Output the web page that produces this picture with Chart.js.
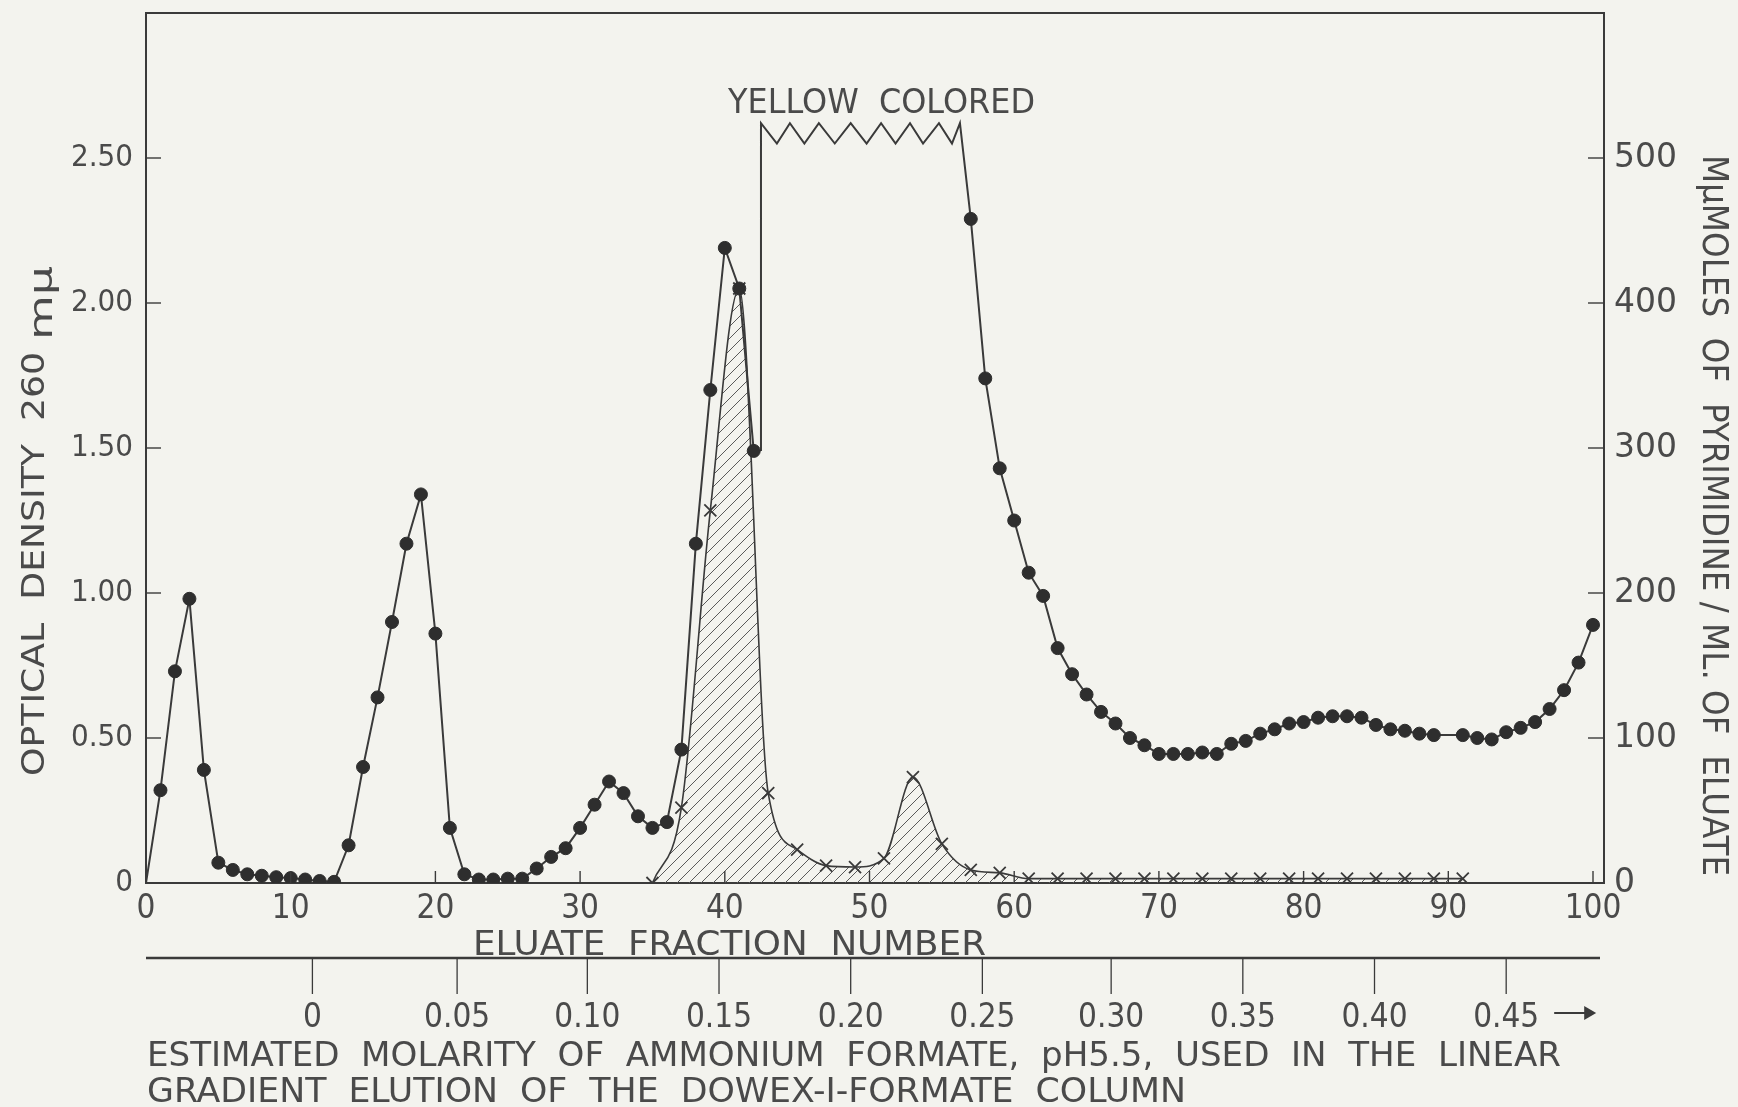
<!DOCTYPE html>
<html>
<head>
<meta charset="utf-8">
<title>Eluate fractions - Dowex-1-formate column</title>
<script src="https://cdn.jsdelivr.net/npm/chart.js@4.4.0/dist/chart.umd.min.js"></script>
<style>
	html, body { margin: 0; padding: 0; background: #f3f3ee; }
	#wrap { width: 1738px; height: 1107px; }
</style>
</head>
<body>
<div id="wrap"><canvas id="chart" width="1738" height="1107"></canvas></div>
<script>
// ---- values ----
const fractions = [0,1,2,3,4,5,6,7,8,9,10,11,12,13,14,15,16,17,18,19,20,21,22,23,24,25,26,27,28,29,
	30,31,32,33,34,35,36,37,38,39,40,41,42,43,44,45,46,47,48,49,50,51,52,53,54,55,56,57,58,59,
	60,61,62,63,64,65,66,67,68,69,70,71,72,73,74,75,76,77,78,79,80,81,82,83,84,85,86,87,88,89,
	91,92,93,94,95,96,97,98,99,100];

// optical density at 260 mu (null = off scale, yellow coloured fractions)
const opticalDensity = [0, 0.32, 0.73, 0.98, 0.39, 0.07, 0.045, 0.03, 0.025, 0.02,
	0.017, 0.012, 0.007, 0.004, 0.13, 0.40, 0.64, 0.90, 1.17, 1.34,
	0.86, 0.19, 0.03, 0.012, 0.012, 0.015, 0.015, 0.05, 0.09, 0.12,
	0.19, 0.27, 0.35, 0.31, 0.23, 0.19, 0.21, 0.46, 1.17, 1.70,
	2.19, 2.05, 1.49, null, null, null, null, null, null, null,
	null, null, null, null, null, null, null, 2.29, 1.74, 1.43,
	1.25, 1.07, 0.99, 0.81, 0.72, 0.65, 0.59, 0.55, 0.50, 0.475,
	0.445, 0.445, 0.445, 0.45, 0.445, 0.48, 0.49, 0.515, 0.53, 0.55,
	0.555, 0.57, 0.575, 0.575, 0.57, 0.545, 0.53, 0.525, 0.515, 0.51,
	0.51, 0.50, 0.495, 0.52, 0.535, 0.555, 0.60, 0.665, 0.76, 0.89];

// m-micromoles of pyrimidine / ml of eluate (crosses, right axis)
const pyrFractions = [35,37,39,41,43,45,47,49,51,53,55,57,59,61,63,65,67,69,71,73,75,77,79,81,83,85,87,89,91];
const pyrimidine = [0, 52, 257, 410, 62, 23, 12, 11, 17, 73, 27, 9, 7, 3, 3, 3, 3, 3, 3, 3, 3, 3, 3, 3, 3, 3, 3, 3, 3];

// off-scale stretch drawn as a zigzag cap
const yellowFractions = [42.5, 42.5, 43.6, 44.5, 45.5, 46.5, 47.6, 48.7, 49.8, 50.8, 51.8, 52.8, 53.7, 54.8, 55.7, 56.25, 57];
const yellowDensity = [1.49, 2.62, 2.55, 2.62, 2.55, 2.62, 2.55, 2.62, 2.55, 2.62, 2.55, 2.62, 2.55, 2.62, 2.55, 2.62, 2.29];

// tick labels
const xTicks = [0, 10, 20, 30, 40, 50, 60, 70, 80, 90, 100];
const xLabels = ['0', '10', '20', '30', '40', '50', '60', '70', '80', '90', '100'];
const odTicks = [0, 0.5, 1, 1.5, 2, 2.5];
const odLabels = ['0', '0.50', '1.00', '1.50', '2.00', '2.50'];
const pyrTicks = [0, 100, 200, 300, 400, 500];
const pyrLabels = ['0', '100', '200', '300', '400', '500'];

// molarity scale under the fraction axis (positions given as fraction numbers)
const molarityAt = [11.5, 21.5, 30.5, 39.6, 48.7, 57.8, 66.7, 75.8, 84.9, 94.0];
const molarityLabels = ['0', '0.05', '0.10', '0.15', '0.20', '0.25', '0.30', '0.35', '0.40', '0.45'];


// ---- look ----
const paper = '#f3f3ee';
const ink = '#3a3a3a';
const textInk = '#4a4a4a';
const plain = "'DejaVu Sans', sans-serif";
const narrow = "'DejaVu Sans Condensed', 'DejaVu Sans', sans-serif";

function hatch() {
	const s = 12;
	const c = document.createElement('canvas');
	c.width = s;
	c.height = s;
	const g = c.getContext('2d');
	g.strokeStyle = '#5a5a5a';
	g.lineWidth = 1;
	g.beginPath();
	g.moveTo(-1, s + 1); g.lineTo(s + 1, -1);
	g.moveTo(-2, 2); g.lineTo(2, -2);
	g.moveTo(s - 2, s + 2); g.lineTo(s + 2, s - 2);
	g.stroke();
	return g.createPattern(c, 'repeat');
}

function line(c, x1, y1, x2, y2) {
	c.beginPath();
	c.moveTo(x1, y1);
	c.lineTo(x2, y2);
	c.stroke();
}

// draw text squeezed/stretched to the width it has in the figure
function fitText(c, text, x, y, width, rot) {
	const w = c.measureText(text).width;
	c.save();
	c.translate(x, y);
	if (rot) c.rotate(rot);
	c.scale(width / w, 1);
	c.textAlign = 'left';
	c.textBaseline = 'alphabetic';
	c.fillText(text, 0, 0);
	c.restore();
}

// keep the plot box where the figure has it
function noPad(s) {
	s.paddingTop = 0;
	s.paddingBottom = 0;
	s.paddingLeft = 0;
	s.paddingRight = 0;
}

const decorations = {
	id: 'decorations',
	beforeDraw(chart) {
		const c = chart.ctx;
		c.save();
		c.fillStyle = paper;
		c.fillRect(0, 0, chart.width, chart.height);
		c.restore();
	},
	afterDraw(chart) {
		const c = chart.ctx;
		const a = chart.chartArea;
		const sx = chart.scales.x, sy = chart.scales.y, sy2 = chart.scales.y2;
		c.save();
		c.strokeStyle = ink;
		c.fillStyle = textInk;

		// top edge of the frame
		c.lineWidth = 2;
		line(c, a.left, a.top, a.right, a.top);

		// inward tick marks
		c.lineWidth = 1.4;
		xTicks.forEach(v => {
			const px = sx.getPixelForValue(v);
			line(c, px, a.bottom, px, a.bottom - 12);
		});
		odTicks.forEach(v => {
			const py = sy.getPixelForValue(v);
			line(c, a.left, py, a.left + 15, py);
		});
		pyrTicks.forEach(v => {
			const py = sy2.getPixelForValue(v);
			line(c, a.right, py, a.right - 16, py);
		});

		// axis titles
		c.font = '32px ' + narrow;
		fitText(c, 'OPTICAL  DENSITY  260', 44, 776, 424, -Math.PI / 2);
		fitText(c, 'mμ', 52, 340, 74, -Math.PI / 2);

		c.font = '36px ' + narrow;
		fitText(c, 'MμMOLES  OF  PYRIMIDINE / ML. OF  ELUATE', 1703, 155, 721, Math.PI / 2);

		c.font = '34px ' + narrow;
		fitText(c, 'ELUATE  FRACTION  NUMBER', 473, 955, 513);

		c.font = '33px ' + plain;
		fitText(c, 'YELLOW  COLORED', 728, 113, 307);

		// molarity scale
		const my = 958;
		c.lineWidth = 2.5;
		line(c, a.left, my, a.right - 4, my);
		c.lineWidth = 1.3;
		c.font = '33px ' + narrow;
		c.textAlign = 'center';
		c.textBaseline = 'alphabetic';
		molarityAt.forEach((f, i) => {
			const px = sx.getPixelForValue(f);
			line(c, px, my, px, my + 36);
			c.fillText(molarityLabels[i], px, 1027);
		});
		// arrow after the last value
		const ax = sx.getPixelForValue(molarityAt[molarityAt.length - 1]) + 48;
		c.lineWidth = 2;
		line(c, ax, 1013, ax + 32, 1013);
		c.fillStyle = ink;
		c.beginPath();
		c.moveTo(ax + 42, 1013);
		c.lineTo(ax + 30, 1006);
		c.lineTo(ax + 30, 1020);
		c.closePath();
		c.fill();

		c.fillStyle = textInk;
		c.font = '34px ' + narrow;
		fitText(c, 'ESTIMATED  MOLARITY  OF  AMMONIUM  FORMATE,  pH5.5,  USED  IN  THE  LINEAR', 147, 1066, 1414);
		fitText(c, 'GRADIENT  ELUTION  OF  THE  DOWEX-I-FORMATE  COLUMN', 147, 1102, 1039);

		c.restore();
	}
};

const odPoints = fractions.map((f, i) => ({ x: f, y: opticalDensity[i] }));
const pyrPoints = pyrFractions.map((f, i) => ({ x: f, y: pyrimidine[i] }));
const yellowPoints = yellowFractions.map((f, i) => ({ x: f, y: yellowDensity[i] }));

const ctx = document.getElementById('chart');
const chart = new Chart(ctx, {
	type: 'line',
	data: {
		datasets: [
			{
				label: 'Optical density 260 mμ',
				data: odPoints,
				yAxisID: 'y',
				order: 0,
				borderColor: ink,
				borderWidth: 2,
				tension: 0,
				spanGaps: false,
				pointStyle: 'circle',
				pointRadius: c => (c.dataIndex === 0 ? 0 : 6.5),
				pointBackgroundColor: '#2e2e2e',
				pointBorderColor: '#2e2e2e',
				pointBorderWidth: 1,
				fill: false
			},
			{
				label: 'Yellow colored',
				data: yellowPoints,
				yAxisID: 'y',
				order: 1,
				borderColor: ink,
				borderWidth: 2,
				tension: 0,
				pointRadius: 0,
				fill: false
			},
			{
				label: 'mμmoles of pyrimidine / ml',
				data: pyrPoints,
				yAxisID: 'y2',
				order: 2,
				borderColor: ink,
				borderWidth: 1.6,
				cubicInterpolationMode: 'monotone',
				pointStyle: 'crossRot',
				pointRadius: 8.5,
				pointBorderWidth: 1.8,
				pointBorderColor: ink,
				backgroundColor: hatch(),
				fill: 'origin'
			}
		]
	},
	options: {
		responsive: false,
		animation: false,
		events: [],
		layout: { padding: { top: 13, left: 0, right: 0, bottom: 0 } },
		plugins: {
			legend: { display: false },
			tooltip: { enabled: false }
		},
		scales: {
			x: {
				type: 'linear',
				min: 0,
				max: 100.76,
				afterFit: s => { s.height = 224; noPad(s); },
				afterBuildTicks: s => { s.ticks = xTicks.map(v => ({ value: v })); },
				grid: { display: false, drawTicks: false },
				border: { display: true, color: ink, width: 2 },
				ticks: {
					callback: (v, i) => xLabels[i],
					autoSkip: false,
					maxRotation: 0,
					padding: 7,
					color: textInk,
					font: { family: narrow, size: 33 }
				}
			},
			y: {
				position: 'left',
				min: 0,
				max: 3,
				afterFit: s => { s.width = 146; noPad(s); },
				afterBuildTicks: s => { s.ticks = odTicks.map(v => ({ value: v })); },
				grid: { display: false, drawTicks: false },
				border: { display: true, color: ink, width: 2 },
				ticks: {
					callback: (v, i) => odLabels[i],
					padding: 13,
					color: textInk,
					font: { family: narrow, size: 31 }
				}
			},
			y2: {
				position: 'right',
				min: 0,
				max: 600,
				afterFit: s => { s.width = 134; noPad(s); },
				afterBuildTicks: s => { s.ticks = pyrTicks.map(v => ({ value: v })); },
				grid: { display: false, drawTicks: false },
				border: { display: true, color: ink, width: 2 },
				ticks: {
					callback: (v, i) => pyrLabels[i],
					padding: 10,
					color: textInk,
					font: { family: plain, size: 33 }
				}
			}
		}
	},
	plugins: [decorations]
});
</script>
</body>
</html>
